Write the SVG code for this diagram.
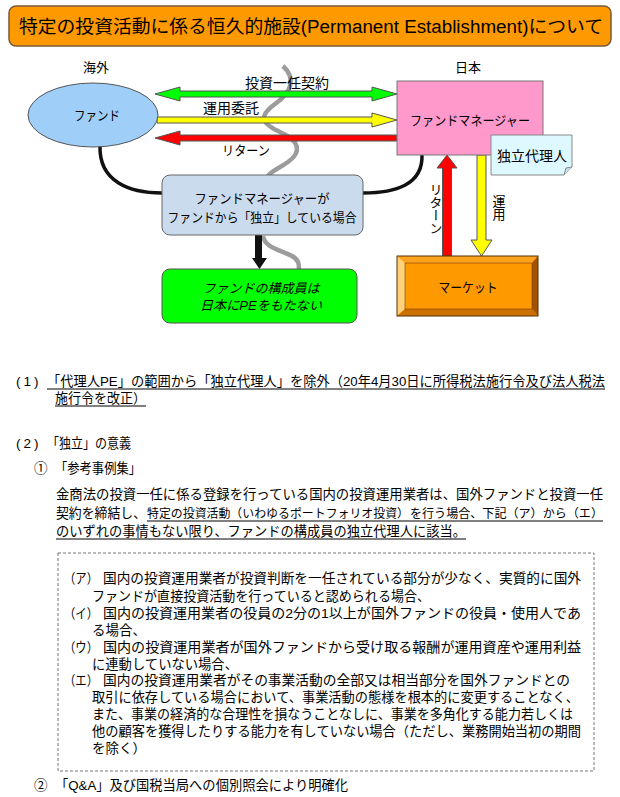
<svg xmlns="http://www.w3.org/2000/svg" width="620" height="797" viewBox="0 0 620 797">
<style>
text{font-family:"Liberation Sans","Noto Sans CJK JP",sans-serif;fill:#000}
.lbl{font-size:13px;text-anchor:middle}
.body{font-size:13.5px}
.ul{stroke:#000;stroke-width:1}
.arr{stroke:#555;stroke-width:1}
</style>
<rect width="620" height="797" fill="#fff"/>
<g id="title">
<rect x="9" y="6" width="602" height="40" rx="7" fill="#FF9900" stroke="#7A5A36" stroke-width="1.5"/>
<text x="311" y="33" style="font-size:18px;text-anchor:middle" textLength="584" lengthAdjust="spacingAndGlyphs">特定の投資活動に係る恒久的施設(Permanent Establishment)について</text>
</g>
<text class="lbl" x="96" y="72">海外</text>
<text class="lbl" x="468" y="72">日本</text>
<g id="connectors">
<path d="M283,66 C296,78 292,92 275,104 C258,116 262,124 280,132 C300,141 302,152 288,162 C278,169 270,172 268,176" fill="none" stroke="#9C9C9C" stroke-width="4.5"/>
<path d="M263,236 C265,248 280,250 292,256 C299,260 299,264 299,269" fill="none" stroke="#9C9C9C" stroke-width="4.5"/>
<path d="M100,146 C99,182 130,193 162,193" fill="none" stroke="#111" stroke-width="3.5"/>
<path d="M422,155 C423,185 395,193 363,193" fill="none" stroke="#111" stroke-width="3.5"/>
<polygon class="arr" fill="#00FF00" points="155,94 180,87 180,91 372,91 372,87 397,94 372,101 372,97 180,97 180,101"/>
<polygon class="arr" fill="#FFFF00" points="157,117 372,117 372,113 397,120 372,127 372,123 157,123"/>
<polygon class="arr" fill="#FF0000" points="397,135 180,135 180,131 155,138 180,145 180,141 397,141"/>
<polygon class="arr" fill="#FF0000" points="447,155 457,168 451.5,168 451.5,256 442.5,256 442.5,168 437,168"/>
<polygon class="arr" fill="#FFFF00" points="477,155 486,155 486,240 492,240 481.5,256 471,240 477,240"/>
<polygon fill="#111" points="255,235 262,235 262,258 267,258 259.5,269 252,258 255,258"/>
<text class="lbl" x="287" y="88" style="font-size:14px">投資一任契約</text>
<text class="lbl" x="231" y="113" style="font-size:14px">運用委託</text>
<text class="lbl" x="246" y="155" textLength="48" lengthAdjust="spacingAndGlyphs">リターン</text>
<text x="435" y="209" style="font-size:13px;writing-mode:vertical-rl;text-anchor:middle">リターン</text>
<text x="498" y="208" style="font-size:13px;writing-mode:vertical-rl;text-anchor:middle">運用</text>
</g>
<g id="fund">
<ellipse cx="93" cy="115" rx="65" ry="32" fill="#9FCFF8" stroke="#555" stroke-width="1"/>
<text class="lbl" x="97" y="120" textLength="46" lengthAdjust="spacingAndGlyphs">ファンド</text>
</g>
<g id="manager">
<rect x="397" y="81" width="146" height="74" fill="#FF99CC" stroke="#777" stroke-width="1"/>
<text class="lbl" x="470" y="125" textLength="120" lengthAdjust="spacingAndGlyphs">ファンドマネージャー</text>
</g>
<g id="agent">
<path d="M491,135 H572 V167 L564,175 H491 Z" fill="#DDF8FF" stroke="#888" stroke-width="1"/>
<path d="M572,167 L566,168 L564,175" fill="#C8E4EC" stroke="#888" stroke-width="1"/>
<text class="lbl" x="532" y="161" style="font-size:14px">独立代理人</text>
</g>
<g id="independent">
<rect x="162" y="175" width="201" height="60" rx="8" fill="#CBDBEE" stroke="#666" stroke-width="1"/>
<text class="lbl" x="262" y="203" textLength="135" lengthAdjust="spacingAndGlyphs">ファンドマネージャーが</text>
<text class="lbl" x="262" y="222" textLength="189" lengthAdjust="spacingAndGlyphs">ファンドから「独立」している場合</text>
</g>
<g id="nope">
<rect x="162" y="269" width="195" height="54" rx="8" fill="#00FF00" stroke="#555" stroke-width="1"/>
<text class="lbl" x="261" y="293" style="font-style:italic" textLength="117" lengthAdjust="spacingAndGlyphs">ファンドの構成員は</text>
<text class="lbl" x="261" y="310" style="font-style:italic" textLength="122" lengthAdjust="spacingAndGlyphs">日本にPEをもたない</text>
</g>
<g id="market">
<rect x="397" y="256" width="141" height="60" fill="#FF9900"/>
<polygon points="397,256 538,256 532,263 405,263" fill="#FFA31F"/>
<polygon points="397,256 405,263 405,309 397,316" fill="#FFD27A"/>
<polygon points="538,256 538,316 532,309 532,263" fill="#A35200"/>
<polygon points="397,316 405,309 532,309 538,316" fill="#CC7000"/>
<rect x="405" y="263" width="127" height="46" fill="none" stroke="#7A4000" stroke-width="0.6"/>
<rect x="397" y="256" width="141" height="60" fill="none" stroke="#553300" stroke-width="1"/>
<text class="lbl" x="468" y="292" textLength="59" lengthAdjust="spacingAndGlyphs">マーケット</text>
</g>
<g id="notes" class="body">
<text x="16" y="386" style="letter-spacing:3px">(1)</text>
<text x="47" y="386" textLength="558" lengthAdjust="spacingAndGlyphs">「代理人PE」の範囲から「独立代理人」を除外（20年4月30日に所得税法施行令及び法人税法</text>
<line class="ul" x1="47" y1="389" x2="605" y2="389"/>
<text x="55" y="403" textLength="91" lengthAdjust="spacingAndGlyphs">施行令を改正）</text>
<line class="ul" x1="55" y1="406" x2="146" y2="406"/>
<text x="16" y="448" style="letter-spacing:3px">(2)</text>
<text x="47" y="448" textLength="84" lengthAdjust="spacingAndGlyphs">「独立」の意義</text>
<text x="34" y="473">①</text>
<text x="55" y="473" textLength="86" lengthAdjust="spacingAndGlyphs">「参考事例集」</text>
<text x="56" y="499" textLength="547" lengthAdjust="spacingAndGlyphs">金商法の投資一任に係る登録を行っている国内の投資運用業者は、国外ファンドと投資一任</text>
<text x="56" y="518" textLength="90" lengthAdjust="spacingAndGlyphs">契約を締結し、</text>
<text x="147" y="518" style="font-size:12px" textLength="262" lengthAdjust="spacingAndGlyphs">特定の投資活動（いわゆるポートフォリオ投資）</text>
<text x="410" y="518" style="font-size:12px" textLength="193" lengthAdjust="spacingAndGlyphs">を行う場合、下記（ア）から（エ）</text>
<line class="ul" x1="147" y1="521" x2="603" y2="521"/>
<text x="56" y="536" textLength="410" lengthAdjust="spacingAndGlyphs">のいずれの事情もない限り、ファンドの構成員の独立代理人に該当。</text>
<line class="ul" x1="56" y1="539" x2="466" y2="539"/>
<rect x="58" y="553" width="536" height="218" fill="none" stroke="#777" stroke-width="1" stroke-dasharray="3,2"/>
<text x="64" y="583" textLength="34" lengthAdjust="spacingAndGlyphs">（ア）</text>
<text x="103" y="583" textLength="478" lengthAdjust="spacingAndGlyphs">国内の投資運用業者が投資判断を一任されている部分が少なく、実質的に国外</text>
<text x="92" y="601" textLength="338" lengthAdjust="spacingAndGlyphs">ファンドが直接投資活動を行っていると認められる場合、</text>
<text x="64" y="618" textLength="34" lengthAdjust="spacingAndGlyphs">（イ）</text>
<text x="103" y="618" textLength="478" lengthAdjust="spacingAndGlyphs">国内の投資運用業者の役員の2分の1以上が国外ファンドの役員・使用人であ</text>
<text x="92" y="635">る場合、</text>
<text x="64" y="652" textLength="34" lengthAdjust="spacingAndGlyphs">（ウ）</text>
<text x="103" y="652" textLength="478" lengthAdjust="spacingAndGlyphs">国内の投資運用業者が国外ファンドから受け取る報酬が運用資産や運用利益</text>
<text x="92" y="669" textLength="146" lengthAdjust="spacingAndGlyphs">に連動していない場合、</text>
<text x="64" y="685" textLength="34" lengthAdjust="spacingAndGlyphs">（エ）</text>
<text x="103" y="685" textLength="467" lengthAdjust="spacingAndGlyphs">国内の投資運用業者がその事業活動の全部又は相当部分を国外ファンドとの</text>
<text x="92" y="702" textLength="487" lengthAdjust="spacingAndGlyphs">取引に依存している場合において、事業活動の態様を根本的に変更することなく、</text>
<text x="92" y="719" textLength="481" lengthAdjust="spacingAndGlyphs">また、事業の経済的な合理性を損なうことなしに、事業を多角化する能力若しくは</text>
<text x="92" y="736" textLength="489" lengthAdjust="spacingAndGlyphs">他の顧客を獲得したりする能力を有していない場合（ただし、業務開始当初の期間</text>
<text x="92" y="753">を除く）</text>
<text x="34" y="790">②</text>
<text x="55" y="790" textLength="293" lengthAdjust="spacingAndGlyphs">「Q&amp;A」及び国税当局への個別照会により明確化</text>
</g>
</svg>
